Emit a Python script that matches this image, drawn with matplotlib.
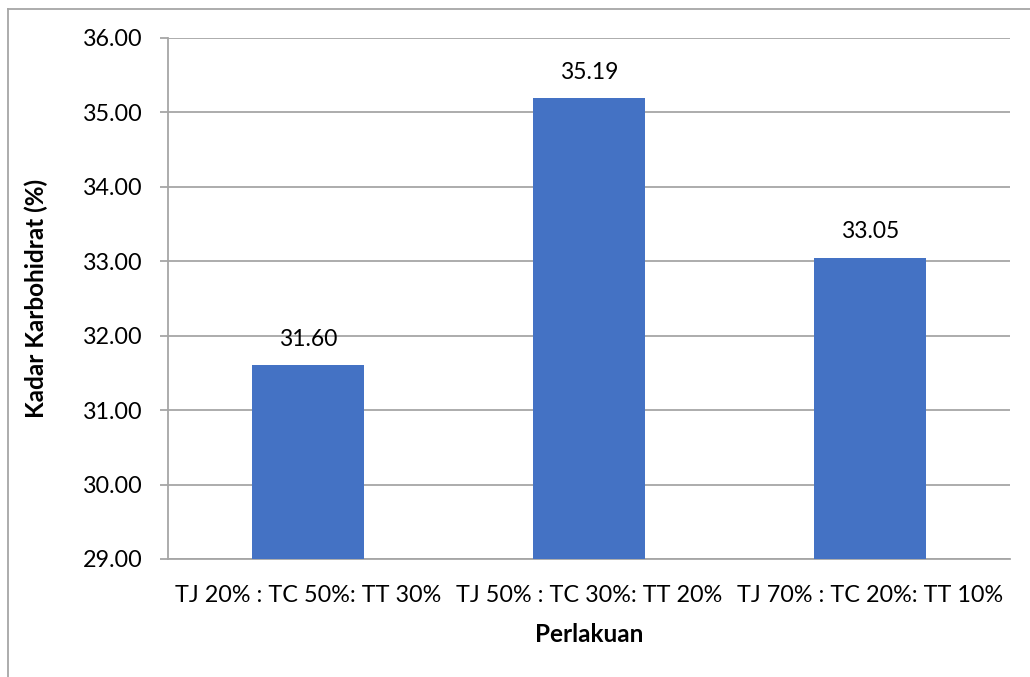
import matplotlib.pyplot as plt
from matplotlib.lines import Line2D

# data
kategori = ['TJ 20% : TC 50%: TT 30%', 'TJ 50% : TC 30%: TT 20%', 'TJ 70% : TC 20%: TT 10%']
kadar = [31.60, 35.19, 33.05]
y_ticks = [29, 30, 31, 32, 33, 34, 35, 36]

plt.rcParams['font.family'] = ['Lato', 'DejaVu Sans']

fig = plt.figure(figsize=(10.3, 6.77), dpi=100)
ax = fig.add_axes([168 / 1030, 1 - 559 / 677, (1010 - 168) / 1030, (559 - 38) / 677])

x = range(len(kategori))
bars = ax.bar(x, kadar, width=0.4, color='#4472C4', zorder=3)

for b, v in zip(bars, kadar):
    ax.annotate(f'{v:.2f}', (b.get_x() + b.get_width() / 2, v),
                xytext=(0, 11), textcoords='offset points',
                ha='center', va='bottom', fontsize=16.5)

ax.set_xlim(-0.5, 2.5)
ax.set_ylim(29, 36)
ax.set_yticks(y_ticks)
ax.set_yticklabels([f'{t:.2f}' for t in y_ticks], fontsize=16.8)
ax.set_xticks(list(x))
ax.set_xticklabels(kategori, fontsize=16.8)

ax.yaxis.grid(True, color='#a6a6a6', linewidth=1.3, zorder=0)
for s in ['top', 'right']:
    ax.spines[s].set_visible(False)
ax.spines['left'].set_color('#a6a6a6')
ax.spines['bottom'].set_color('#a6a6a6')
ax.spines['left'].set_linewidth(1.3)
ax.spines['bottom'].set_linewidth(1.3)
ax.tick_params(axis='y', length=6, color='#a6a6a6', width=1.3, pad=12)
ax.tick_params(axis='x', length=0, pad=19)

ax.set_ylabel('Kadar Karbohidrat (%)', fontsize=17.5, fontweight='bold', labelpad=25)
ax.set_xlabel('Perlakuan', fontsize=17.5, fontweight='bold', labelpad=12)

# chart border
fig.add_artist(Line2D([8 / 1030, 8 / 1030], [0, 1 - 8.5 / 677], color='#a6a6a6', lw=1.3))
fig.add_artist(Line2D([8 / 1030, 1], [1 - 8.5 / 677, 1 - 8.5 / 677], color='#a6a6a6', lw=1.3))

plt.savefig('out.png', dpi=100)
